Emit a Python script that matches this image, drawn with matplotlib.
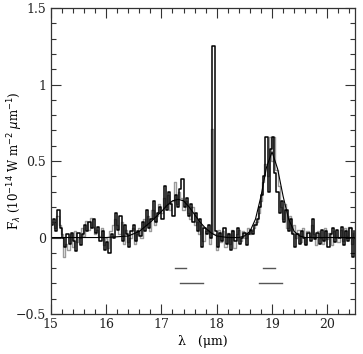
import numpy as np
import matplotlib
matplotlib.use("Agg")
import matplotlib.pyplot as plt
from matplotlib.ticker import MultipleLocator, FuncFormatter

# Black spectrum: bins start at 15.00, step 0.04 um
black_start, black_step = 15.00, 0.04
black_flux = [
    0.08, 0.12, 0.04, 0.18, 0.06, 0.00, -0.06, 0.02, -0.04, 0.03,
    -0.02, -0.09, 0.03, -0.05, 0.02, 0.08, 0.04, 0.10, 0.06, 0.12,
    0.03, 0.07, -0.02, 0.04, -0.08, -0.03, -0.10, 0.02, 0.00, 0.16,
    0.05, 0.14, -0.02, 0.08, 0.02, -0.06, 0.04, 0.08, -0.02, 0.04,
    0.01, 0.10, 0.04, 0.18, 0.06, 0.12, 0.24, 0.10, 0.16, 0.20,
    0.12, 0.34, 0.18, 0.30, 0.22, 0.14, 0.28, 0.20, 0.32, 0.38,
    0.20, 0.26, 0.14, 0.22, 0.10, 0.16, 0.04, 0.12, -0.06, 0.06,
    0.02, 0.08, 0.00, 1.25, 0.04, -0.06, 0.03, -0.02, 0.06, -0.04,
    0.02, -0.08, 0.04, -0.02, 0.06, -0.04, 0.00, 0.03, -0.05, 0.02,
    0.05, 0.02, 0.08, 0.12, 0.20, 0.28, 0.40, 0.66, 0.30, 0.58,
    0.66, 0.42, 0.30, 0.16, 0.24, 0.10, 0.18, 0.04, 0.12, 0.02,
    -0.06, 0.02, -0.04, 0.04, 0.00, -0.05, 0.03, -0.02, 0.12, -0.01,
    0.03, -0.04, 0.05, -0.02, 0.04, -0.06, 0.02, 0.06, -0.03, 0.05,
    0.00, 0.07, -0.05, 0.04, -0.02, 0.06, -0.13, 0.04,
]

# Gray spectrum: bins start at 15.02, step 0.04 um
gray_start, gray_step = 15.02, 0.04
gray_flux = [
    0.10, 0.06, 0.14, 0.08, 0.02, -0.13, -0.04, -0.08, 0.02, -0.06,
    0.04, -0.03, 0.00, 0.06, 0.01, 0.11, 0.05, 0.13, 0.07, 0.02,
    0.05, 0.01, 0.06, -0.05, 0.00, -0.07, 0.04, 0.08, 0.12, 0.08,
    0.02, 0.10, -0.04, 0.05, -0.03, 0.00, 0.06, -0.04, 0.02, 0.06,
    0.00, 0.12, 0.08, 0.14, 0.04, 0.18, 0.08, 0.14, 0.22, 0.16,
    0.26, 0.20, 0.28, 0.18, 0.24, 0.36, 0.22, 0.30, 0.26, 0.18,
    0.24, 0.16, 0.12, 0.20, 0.08, 0.10, 0.02, 0.08, -0.02, 0.04,
    0.05, -0.04, 0.71, 0.02, -0.08, 0.05, -0.03, 0.04, -0.06, 0.03,
    -0.04, 0.05, -0.07, 0.02, 0.05, -0.02, 0.04, 0.00, 0.06, 0.02,
    0.04, 0.06, 0.10, 0.16, 0.24, 0.36, 0.48, 0.40, 0.66, 0.50,
    0.66, 0.44, 0.34, 0.20, 0.12, 0.22, 0.06, 0.14, 0.03, 0.08,
    0.00, 0.05, -0.03, 0.06, -0.04, 0.04, 0.01, 0.08, 0.02, -0.05,
    0.04, 0.00, -0.04, 0.06, -0.01, 0.03, -0.05, 0.04, 0.00, -0.03,
    0.05, -0.02, 0.06, 0.01, 0.07, -0.04, 0.03,
]

# Smooth fit curve (sampled)
fit_wave = [15.0, 16.0, 16.4, 16.6, 16.8, 17.0, 17.1, 17.2, 17.3, 17.4, 17.5,
            17.6, 17.7, 17.8, 17.9, 18.0, 18.2, 18.4, 18.5, 18.6, 18.7, 18.8,
            18.9, 19.0, 19.1, 19.2, 19.3, 19.4, 19.5, 19.6, 19.8, 20.5]
fit_flux = [0.0, 0.0, 0.01, 0.04, 0.10, 0.17, 0.21, 0.24, 0.25, 0.24, 0.20,
            0.15, 0.10, 0.06, 0.03, 0.01, 0.0, 0.0, 0.01, 0.04, 0.12, 0.27,
            0.46, 0.56, 0.45, 0.27, 0.12, 0.04, 0.01, 0.0, 0.0, 0.0]

# Horizontal bars (wavelength ranges)
bar_levels = [-0.2, -0.3, -0.2, -0.3]
bar_starts = [17.24, 17.33, 18.84, 18.77]
bar_ends = [17.44, 17.75, 19.06, 19.18]

xticks = [15, 16, 17, 18, 19, 20]
yticks = [-0.5, 0, 0.5, 1, 1.5]

fig = plt.figure(figsize=(3.63, 3.54), dpi=100)
ax = fig.add_axes([0.140, 0.113, 0.838, 0.864])

bw = black_start + black_step * np.arange(len(black_flux))
gw = gray_start + gray_step * np.arange(len(gray_flux))
ax.plot(gw, gray_flux, drawstyle="steps-post", color="#9a9a9a", lw=1.0)
ax.plot(bw, black_flux, drawstyle="steps-post", color="black", lw=1.1)
ax.plot(fit_wave, fit_flux, color="black", lw=0.8)
for lv, s, e in zip(bar_levels, bar_starts, bar_ends):
    ax.plot([s, e], [lv, lv], color="#555555", lw=1.0)

ax.set_xlim(15, 20.5)
ax.set_ylim(-0.5, 1.5)
ax.set_xticks(xticks)
ax.set_yticks(yticks)
ax.xaxis.set_minor_locator(MultipleLocator(0.2))
ax.yaxis.set_minor_locator(MultipleLocator(0.1))

def yfmt(v, pos):
    if abs(v - round(v)) < 1e-9:
        s = "%d" % round(v)
    else:
        s = "%g" % v
    return s.replace("-", "\u2212")
ax.yaxis.set_major_formatter(FuncFormatter(yfmt))

ax.tick_params(which="both", direction="in", top=True, right=True,
               labelsize=9, width=0.8, colors="#333333")
ax.tick_params(which="major", length=7)
ax.tick_params(which="minor", length=3.5)
ax.tick_params(axis="x", pad=3)
for lab in ax.get_xticklabels() + ax.get_yticklabels():
    lab.set_family("DejaVu Serif")
    lab.set_color("#222222")
for sp in ax.spines.values():
    sp.set_linewidth(0.9)
    sp.set_color("#333333")

ax.set_xlabel("\u03bb   (\u03bcm)", fontsize=9, family="DejaVu Serif")
ax.xaxis.set_label_coords(0.5, -0.070)
ax.set_ylabel(r"F$_\lambda$ (10$^{-14}$ W m$^{-2}$ $\mu$m$^{-1}$)",
              fontsize=8.5, family="DejaVu Serif")
ax.yaxis.set_label_coords(-0.085, 0.5)

fig.savefig("out.png", dpi=100)
